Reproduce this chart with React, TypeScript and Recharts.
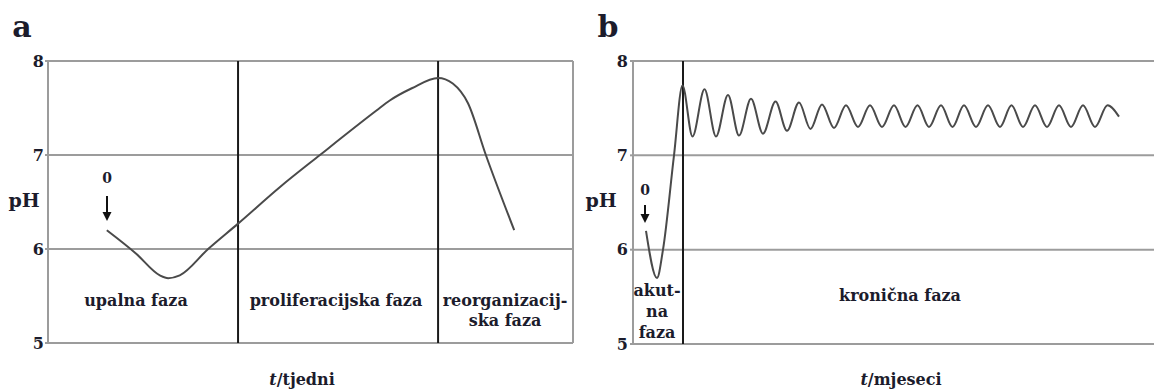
import React from 'react';
import { LineChart, Line, XAxis, YAxis, CartesianGrid, ReferenceLine } from 'recharts';

// shared pH ticks
const phTicks = [5, 6, 7, 8];

// Panel a: t in arbitrary week units (0..100)
const weeksA = [11.2, 16.8, 21.3, 22.9, 25.1, 30.5, 36.2, 44.2, 51.8, 62.5, 65.1, 69.3, 74.3, 77.1, 80.0, 83.4, 88.8];
const phA = [6.2, 5.95, 5.72, 5.69, 5.72, 6.0, 6.27, 6.66, 7.0, 7.47, 7.58, 7.71, 7.82, 7.76, 7.55, 7.0, 6.2];
const phaseBoundsA = [36.2, 74.3];
const phaseLabelsA = ['upalna faza', 'proliferacijska faza', 'reorganizacij-\nska faza'];

// Panel b: t in arbitrary month units (0..52.1)
const monthsB = [
  1.3, 2.4, 3.0, 4.1, 4.95,
  5.95, 7.15, 8.3, 9.5, 10.6, 11.8, 13.0, 14.25, 15.4, 16.6, 17.75, 18.9, 20.1, 21.3, 22.5, 23.7,
  24.9, 26.1, 27.25, 28.45, 29.6, 30.8, 31.95, 33.1, 34.3, 35.5, 36.7, 37.85, 39.0, 40.2, 41.4, 42.6,
  43.8, 45.0, 46.2, 47.45, 48.6,
];
const phB = [
  6.2, 5.7, 6.0, 7.0, 7.74,
  7.2, 7.7, 7.2, 7.64, 7.21, 7.6, 7.23, 7.57, 7.26, 7.56, 7.28, 7.54, 7.29, 7.53, 7.3, 7.53,
  7.3, 7.53, 7.3, 7.53, 7.3, 7.53, 7.3, 7.53, 7.3, 7.53, 7.3, 7.53, 7.3, 7.53, 7.3, 7.53,
  7.3, 7.53, 7.3, 7.53, 7.41,
];
const phaseBoundsB = [5.0];
const phaseLabelsB = ['akut-\nna\nfaza', 'kronična faza'];

const dataA = weeksA.map((t, i) => ({ t, ph: phA[i] }));
const dataB = monthsB.map((t, i) => ({ t, ph: phB[i] }));

const GRID = '#9c9c9c';
const INK = '#1c1c2c';
const CURVE = '#4a4a4a';
const SERIF = '"DejaVu Serif", "Liberation Serif", serif';

const tickStyle = { fontFamily: SERIF, fontWeight: 700, fontSize: 16, fill: INK };

function Txt({ x, y, size = 16, lh = 20, children, italicT }: any) {
  return (
    <div
      style={{
        position: 'absolute',
        left: x,
        top: y,
        transform: 'translate(-50%, -50%)',
        fontFamily: SERIF,
        fontWeight: 700,
        fontSize: size,
        color: INK,
        whiteSpace: 'pre',
        textAlign: 'center',
        lineHeight: `${lh}px`,
      }}
    >
      {italicT ? (
        <>
          <i>t</i>
          {children}
        </>
      ) : (
        children
      )}
    </div>
  );
}

function Arrow({ x, y1, y2 }: any) {
  const h = y2 - y1;
  return (
    <svg style={{ position: 'absolute', left: x - 6, top: y1 }} width={12} height={h}>
      <line x1={6} y1={0} x2={6} y2={h - 7} stroke="#111" strokeWidth={2} />
      <polygon points={`1.5,${h - 9} 10.5,${h - 9} 6,${h}`} fill="#111" />
    </svg>
  );
}

export default function App() {
  return (
    <div style={{ position: 'absolute', left: 0, top: 0, width: 1154, height: 392, background: '#fff', overflow: 'hidden' }}>
      {/* Panel a */}
      <div style={{ position: 'absolute', left: 0, top: 0 }}>
        <LineChart width={580} height={392} data={dataA} margin={{ top: 61, right: 7, bottom: 49, left: 0 }}>
          <CartesianGrid vertical={false} stroke={GRID} strokeWidth={2} />
          <XAxis type="number" dataKey="t" domain={[0, 100]} hide />
          <YAxis
            type="number"
            domain={[5, 8]}
            ticks={phTicks}
            interval={0}
            width={48}
            axisLine={{ stroke: GRID, strokeWidth: 2 }}
            tickLine={{ stroke: GRID, strokeWidth: 2 }}
            tickSize={3}
            tickMargin={1}
            tick={tickStyle}
          />
          <ReferenceLine y={8} stroke={GRID} strokeWidth={2} />
          <ReferenceLine y={5} stroke={GRID} strokeWidth={2} />
          <ReferenceLine x={100} stroke={GRID} strokeWidth={2} />
          {phaseBoundsA.map((b) => (
            <ReferenceLine key={b} x={b} stroke="#1a1a1a" strokeWidth={2} />
          ))}
          <Line type="monotone" dataKey="ph" stroke={CURVE} strokeWidth={2} dot={false} isAnimationActive={false} />
        </LineChart>
      </div>

      {/* Panel b */}
      <div style={{ position: 'absolute', left: 580, top: 0 }}>
        <LineChart width={574} height={392} data={dataB} margin={{ top: 61, right: 0, bottom: 48, left: 0 }}>
          <CartesianGrid vertical={false} stroke={GRID} strokeWidth={2} />
          <XAxis type="number" dataKey="t" domain={[0, 52.1]} hide />
          <YAxis
            type="number"
            domain={[5, 8]}
            ticks={phTicks}
            interval={0}
            width={53}
            axisLine={{ stroke: GRID, strokeWidth: 2 }}
            tickLine={{ stroke: GRID, strokeWidth: 2 }}
            tickSize={3}
            tickMargin={2}
            tick={tickStyle}
          />
          <ReferenceLine y={8} stroke={GRID} strokeWidth={2} />
          <ReferenceLine y={5} stroke={GRID} strokeWidth={2} />
          {phaseBoundsB.map((b) => (
            <ReferenceLine key={b} x={b} stroke="#1a1a1a" strokeWidth={2} />
          ))}
          <Line type="monotone" dataKey="ph" stroke={CURVE} strokeWidth={2} dot={false} isAnimationActive={false} />
        </LineChart>
      </div>

      {/* Annotations panel a */}
      <Txt x={22} y={27} size={30}>a</Txt>
      <Txt x={24} y={200} size={19}>pH</Txt>
      <Txt x={107} y={178} size={14}>0</Txt>
      <Arrow x={107} y1={196} y2={221} />
      <Txt x={136} y={301}>{phaseLabelsA[0]}</Txt>
      <Txt x={336} y={301}>{phaseLabelsA[1]}</Txt>
      <Txt x={505} y={311}>{phaseLabelsA[2]}</Txt>
      <Txt x={302} y={380} italicT>/tjedni</Txt>

      {/* Annotations panel b */}
      <Txt x={608} y={27} size={30}>b</Txt>
      <Txt x={601} y={200} size={19}>pH</Txt>
      <Txt x={645} y={190} size={14}>0</Txt>
      <Arrow x={645} y1={205} y2={223} />
      <Txt x={657} y={311} lh={21}>{phaseLabelsB[0]}</Txt>
      <Txt x={900} y={296}>{phaseLabelsB[1]}</Txt>
      <Txt x={901} y={380} italicT>/mjeseci</Txt>
    </div>
  );
}
